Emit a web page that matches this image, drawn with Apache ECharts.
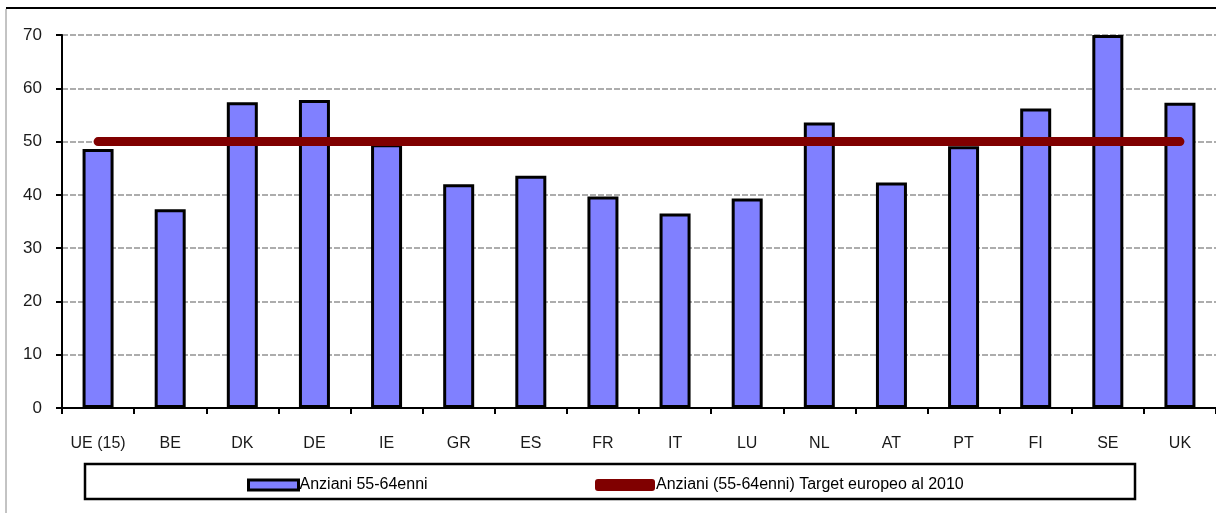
<!DOCTYPE html>
<html>
<head>
<meta charset="utf-8">
<script src="https://cdn.jsdelivr.net/npm/echarts@6/dist/echarts.min.js"></script>
<style>
  html, body { margin: 0; padding: 0; background: #fff; }
  #chart { width: 1216px; height: 513px; }
</style>
</head>
<body>
<div id="chart"></div>
<script>
const countries = ['UE (15)', 'BE', 'DK', 'DE', 'IE', 'GR', 'ES', 'FR', 'IT', 'LU', 'NL', 'AT', 'PT', 'FI', 'SE', 'UK']
const anziani = [48.6, 37.3, 57.4, 57.8, 49.5, 42.0, 43.6, 39.7, 36.5, 39.3, 53.6, 42.3, 49.1, 56.2, 70, 57.3]
const target = [50, 50, 50, 50, 50, 50, 50, 50, 50, 50, 50, 50, 50, 50, 50, 50]
const yTicks = [0, 10, 20, 30, 40, 50, 60, 70]

const font = "'Liberation Sans Narrow', 'Arial Narrow', 'Liberation Sans', sans-serif"

const chart = echarts.init(document.getElementById('chart'))

chart.setOption({
  backgroundColor: '#fff',
  animation: false,
  grid: { left: 62, top: 35, width: 1165, height: 373, containLabel: false },
  xAxis: {
    type: 'category',
    data: countries,
    boundaryGap: true,
    axisLine: { lineStyle: { color: '#000', width: 2 } },
    axisTick: { show: true, interval: 0, length: 6, inside: false, lineStyle: { color: '#000', width: 2 } },
    axisLabel: { interval: 0, color: '#1a1a1a', fontFamily: font, fontSize: 16, margin: 28 },
    splitLine: { show: false }
  },
  yAxis: {
    type: 'value',
    min: yTicks[0],
    max: yTicks[yTicks.length - 1],
    interval: 10,
    axisLine: { show: true, lineStyle: { color: '#000', width: 2 } },
    axisTick: { show: true, length: 6, lineStyle: { color: '#000', width: 2 } },
    axisLabel: { color: '#1a1a1a', fontFamily: font, fontSize: 17, margin: 20 },
    splitLine: { show: true, lineStyle: { color: '#adadad', width: 2, type: [6, 2] } }
  },
  legend: [
    {
      left: 242, top: 472,
      itemWidth: 50, itemHeight: 10,
      itemStyle: { color: '#8080ff', borderColor: '#000', borderWidth: 3 },
      textStyle: { color: '#000', fontFamily: font, fontSize: 16, padding: [0, 0, 0, -4] },
      data: [{ name: 'Anziani 55-64enni', icon: 'rect' }]
    },
    {
      left: 590, top: 472,
      itemWidth: 60, itemHeight: 12,
      itemStyle: { color: '#800000', borderWidth: 0 },
      textStyle: { color: '#000', fontFamily: font, fontSize: 16, padding: [0, 0, 0, -4] },
      data: [{ name: 'Anziani (55-64enni) Target europeo al 2010', icon: 'roundRect' }]
    }
  ],
  graphic: [
    { type: 'line', shape: { x1: 6, y1: 8, x2: 1216, y2: 8 }, style: { stroke: '#000', lineWidth: 2 } },
    { type: 'line', shape: { x1: 6, y1: 9, x2: 6, y2: 513 }, style: { stroke: '#888', lineWidth: 1 } },
    { type: 'rect', shape: { x: 85, y: 464, width: 1050, height: 35 }, style: { fill: 'none', stroke: '#000', lineWidth: 2.5 }, z: -1 }
  ],
  series: [
    {
      name: 'Anziani 55-64enni',
      type: 'bar',
      data: anziani,
      barWidth: 31,
      itemStyle: { color: '#8080ff', borderColor: '#000', borderWidth: 3 }
    },
    {
      name: 'Anziani (55-64enni) Target europeo al 2010',
      type: 'line',
      data: target,
      showSymbol: false,
      symbol: 'none',
      lineStyle: { color: '#800000', width: 9, cap: 'round' },
      itemStyle: { color: '#800000' },
      z: 3
    }
  ]
})
</script>
</body>
</html>
